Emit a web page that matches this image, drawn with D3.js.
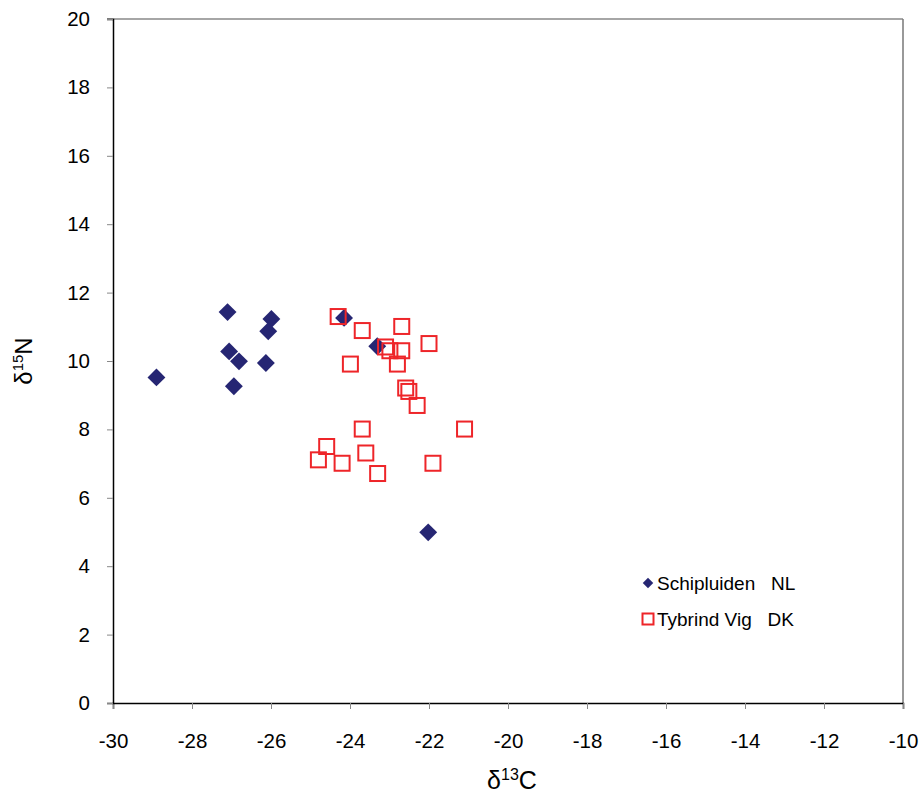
<!DOCTYPE html>
<html lang="en">
<head>
    <meta charset="UTF-8">
    <title>Isotopes</title>
    <script src="https://d3js.org/d3.v7.min.js"></script>
    <style>
        body { margin: 0; background: #fff; font-family: Arial, "Liberation Sans", sans-serif; }
        .tick text { font-size: 20.5px; fill: #000; }
    </style>
</head>
<body>
    <svg width="920" height="795"></svg>
    <script>
        // Schipluiden NL
        var schipC = [-27.10, -25.99, -26.07, -27.06, -26.81, -26.13, -28.90, -26.94, -24.15, -23.31, -22.02];
        var schipN = [11.43, 11.23, 10.87, 10.28, 9.99, 9.94, 9.52, 9.26, 11.26, 10.43, 4.99];
        // Tybrind Vig DK
        var tybC = [-24.30, -23.69, -22.69, -22.00, -23.10, -22.99, -22.69, -23.99, -22.80, -22.59,
                    -22.51, -22.30, -23.69, -21.10, -24.59, -24.80, -24.20, -23.60, -23.30, -21.90];
        var tybN = [11.30, 10.89, 11.01, 10.51, 10.41, 10.30, 10.30, 9.91, 9.91, 9.21,
                    9.11, 8.70, 8.01, 8.01, 7.50, 7.11, 7.01, 7.31, 6.71, 7.01];
        var xTicks = [-30, -28, -26, -24, -22, -20, -18, -16, -14, -12, -10];
        var yTicks = [0, 2, 4, 6, 8, 10, 12, 14, 16, 18, 20];

        var margin = {top: 19, right: 17, bottom: 92, left: 113},
            width = 920 - margin.left - margin.right,
            height = 795 - margin.top - margin.bottom;

        var x = d3.scaleLinear().domain([-30, -10]).range([0, width]);
        var y = d3.scaleLinear().domain([0, 20]).range([height, 0]);

        var svg = d3.select("svg").append("g")
            .attr("transform", "translate(" + margin.left + "," + margin.top + ")");

        // grey frame top / right
        svg.append("line").attr("x1", -6).attr("x2", width).attr("y1", 0).attr("y2", 0)
            .attr("stroke", "#a6a6a6").attr("stroke-width", 2);
        svg.append("line").attr("x1", width).attr("x2", width).attr("y1", 0).attr("y2", height)
            .attr("stroke", "#777").attr("stroke-width", 1.5);

        var xAxis = svg.append("g")
            .attr("transform", "translate(0," + height + ")")
            .call(d3.axisBottom(x).tickValues(xTicks).tickSize(6).tickPadding(24).tickFormat(d3.format("d")));
        xAxis.select(".domain").attr("stroke", "#000").attr("stroke-width", 1.5);
        xAxis.selectAll(".tick line").attr("stroke", "#888");

        var yAxis = svg.append("g")
            .call(d3.axisLeft(y).tickValues(yTicks).tickSize(6).tickPadding(17).tickFormat(d3.format("d")));
        yAxis.select(".domain").attr("stroke", "#000").attr("stroke-width", 1.5);
        yAxis.selectAll(".tick line").attr("stroke", "#888");

        // plain hyphen like the original
        xAxis.selectAll(".tick text").text(function(d) { return d < 0 ? "-" + Math.abs(d) : d; });

        // axis titles
        var xt = svg.append("text")
            .attr("x", 399).attr("y", 789 - margin.top)
            .attr("text-anchor", "middle")
            .style("font-size", "25px");
        xt.append("tspan").text("δ");
        xt.append("tspan").attr("dy", -9).style("font-size", "16px").text("13");
        xt.append("tspan").attr("dy", 9).text("C");

        var yt = svg.append("text")
            .attr("transform", "translate(" + (32 - margin.left) + "," + (361 - margin.top) + ") rotate(-90)")
            .attr("text-anchor", "middle")
            .style("font-size", "24px");
        yt.append("tspan").text("δ");
        yt.append("tspan").attr("dy", -9).style("font-size", "15px").text("15");
        yt.append("tspan").attr("dy", 9).text("N");

        var diamond = d3.symbol().type(d3.symbolSquare).size(160);

        // Schipluiden diamonds
        svg.append("g").selectAll("path")
            .data(d3.range(schipC.length))
          .enter().append("path")
            .attr("d", diamond)
            .attr("transform", function(i) {
                return "translate(" + x(schipC[i]) + "," + y(schipN[i]) + ") rotate(45)";
            })
            .attr("fill", "#262673");

        // Tybrind Vig squares
        svg.append("g").selectAll("rect")
            .data(d3.range(tybC.length))
          .enter().append("rect")
            .attr("x", function(i) { return x(tybC[i]) - 7.5; })
            .attr("y", function(i) { return y(tybN[i]) - 7.5; })
            .attr("width", 15).attr("height", 15)
            .attr("fill", "none")
            .attr("stroke", "#ee2529")
            .attr("stroke-width", 2);

        // legend
        var lg = svg.append("g").attr("transform", "translate(" + (648 - margin.left) + "," + (583 - margin.top) + ")");
        lg.append("path").attr("d", d3.symbol().type(d3.symbolSquare).size(55))
            .attr("transform", "rotate(45)").attr("fill", "#262673");
        lg.append("text").attr("x", 9).attr("y", 7).style("font-size", "19px")
            .attr("xml:space", "preserve").text("Schipluiden   NL");
        lg.append("rect").attr("x", -5.5).attr("y", 30.5).attr("width", 11).attr("height", 11)
            .attr("fill", "none").attr("stroke", "#ee2529").attr("stroke-width", 2);
        lg.append("text").attr("x", 9).attr("y", 43).style("font-size", "19px")
            .attr("xml:space", "preserve").text("Tybrind Vig   DK");
    </script>
</body>
</html>
